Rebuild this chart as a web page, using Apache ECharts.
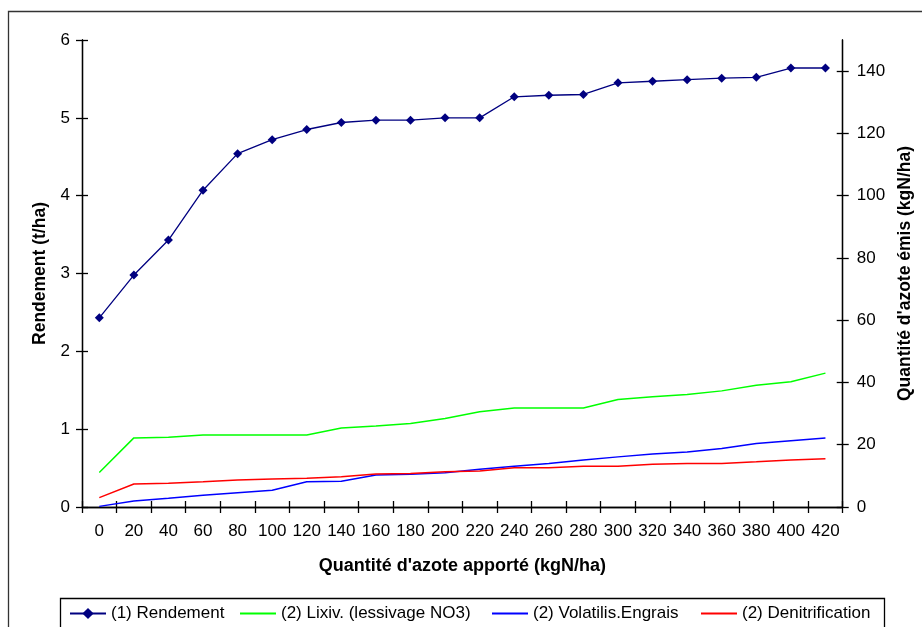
<!DOCTYPE html>
<html>
<head>
<meta charset="utf-8">
<script src="https://cdn.jsdelivr.net/npm/echarts@6/dist/echarts.min.js"></script>
<style>
html,body{margin:0;padding:0;background:#fff;}
#c{width:922px;height:627px;}
</style>
</head>
<body>
<div id="c"></div>
<script>
var categories = ['0','20','40','60','80','100','120','140','160','180','200','220','240','260','280','300','320','340','360','380','400','420'];
var rendement = [2.43,2.98,3.43,4.07,4.54,4.72,4.85,4.94,4.97,4.97,5.0,5.0,5.27,5.29,5.30,5.45,5.47,5.49,5.51,5.52,5.64,5.64];
var lixiv = [11.1,22.2,22.4,23.1,23.1,23.1,23.1,25.4,26.0,26.8,28.4,30.6,31.8,31.8,31.8,34.5,35.4,36.1,37.3,39.1,40.2,43.0];
var volatilis = [0.2,1.9,2.8,3.8,4.6,5.4,8.1,8.3,10.3,10.5,11.0,12.1,13.1,14.0,15.1,16.1,17.0,17.7,18.8,20.4,21.3,22.2];
var denitrif = [3.0,7.4,7.6,8.1,8.7,9.0,9.2,9.7,10.6,10.8,11.3,11.6,12.6,12.6,13.1,13.1,13.7,14.0,14.0,14.5,15.1,15.5];
var seriesNames = ['(1) Rendement','(2) Lixiv. (lessivage NO3)','(2) Volatilis.Engrais','(2) Denitrification'];
var leftTicks = [0,1,2,3,4,5,6];
var rightTicks = [0,20,40,60,80,100,120,140];

var FONT = '"Liberation Sans", Arial, sans-serif';
var chart = echarts.init(document.getElementById('c'));
var axisLineStyle = {color:'#000', width:1.3};
var tickLen = 6;
var labelSize = 17;
var titleStyle = {fontFamily:FONT, fontSize:17.5, fontWeight:'bold', color:'#000'};

function yAx(pos, min, max, ticks, inside, name) {
  return {
    type:'value', position:pos, min:min, max:max,
    name: inside ? '' : name,
    nameLocation:'middle', nameRotate:90,
    nameGap: pos==='left' ? 33 : 53,
    nameTextStyle:titleStyle,
    splitLine:{show:false},
    axisLine:{show:true, lineStyle:axisLineStyle},
    axisTick:{show:true, inside:inside, length:tickLen, lineStyle:axisLineStyle, customValues:ticks},
    axisLabel:{show:!inside, fontFamily:FONT, fontSize:labelSize, color:'#000', margin: pos==='left' ? 12 : 14, customValues:ticks}
  };
}

var legendLefts = [69, 239, 491, 700];
var legends = seriesNames.map(function(n, i){
  return {
    left:legendLefts[i], top:605, padding:0,
    itemWidth:36, itemHeight:14,
    textStyle:{fontFamily:FONT, fontSize:17, color:'#000'},
    data:[ i===0 ? {name:n} : {name:n, itemStyle:{opacity:0}} ]
  };
});

chart.setOption({
  animation:false,
  backgroundColor:'#fff',
  graphic:[
    {type:'rect', shape:{x:8.5, y:11.5, width:960, height:700}, style:{fill:null, stroke:'#333', lineWidth:1.3}, silent:true, z:-1},
    {type:'rect', shape:{x:60.5, y:598.5, width:824, height:60}, style:{fill:null, stroke:'#000', lineWidth:1.3}, silent:true, z:-1}
  ],
  grid:{left:82, right:79, top:40, bottom:120, containLabel:false},
  legend:legends,
  xAxis:[{
    type:'category', data:categories, boundaryGap:true,
    name:"Quantité d'azote apporté (kgN/ha)", nameLocation:'middle', nameGap:50,
    nameTextStyle:{fontFamily:FONT, fontSize:18, fontWeight:'bold', color:'#000'},
    axisLine:{lineStyle:axisLineStyle},
    axisTick:{show:true, inside:false, length:tickLen, lineStyle:axisLineStyle, alignWithLabel:false},
    axisLabel:{fontFamily:FONT, fontSize:labelSize, color:'#000', margin:16, interval:0},
    splitLine:{show:false}
  },{
    type:'category', data:categories, boundaryGap:true, position:'bottom',
    axisLine:{lineStyle:axisLineStyle},
    axisTick:{show:true, inside:true, length:tickLen, lineStyle:axisLineStyle},
    axisLabel:{show:false},
    splitLine:{show:false}
  }],
  yAxis:[
    yAx('left',0,6,leftTicks,false,'Rendement (t/ha)'),
    yAx('right',0,150,rightTicks,false,"Quantité d'azote émis (kgN/ha)"),
    yAx('left',0,6,leftTicks,true,''),
    yAx('right',0,150,rightTicks,true,'')
  ],
  series:[
    {name:seriesNames[0], type:'line', xAxisIndex:0, yAxisIndex:0, data:rendement,
     symbol:'diamond', symbolSize:9, showSymbol:true,
     lineStyle:{color:'#000080', width:1.3}, itemStyle:{color:'#000080'}},
    {name:seriesNames[1], type:'line', xAxisIndex:0, yAxisIndex:1, data:lixiv,
     symbol:'none', lineStyle:{color:'#00FF00', width:1.5}, itemStyle:{color:'#00FF00'}},
    {name:seriesNames[2], type:'line', xAxisIndex:0, yAxisIndex:1, data:volatilis,
     symbol:'none', lineStyle:{color:'#0000FF', width:1.5}, itemStyle:{color:'#0000FF'}},
    {name:seriesNames[3], type:'line', xAxisIndex:0, yAxisIndex:1, data:denitrif,
     symbol:'none', lineStyle:{color:'#FF0000', width:1.5}, itemStyle:{color:'#FF0000'}}
  ]
});
</script>
</body>
</html>
